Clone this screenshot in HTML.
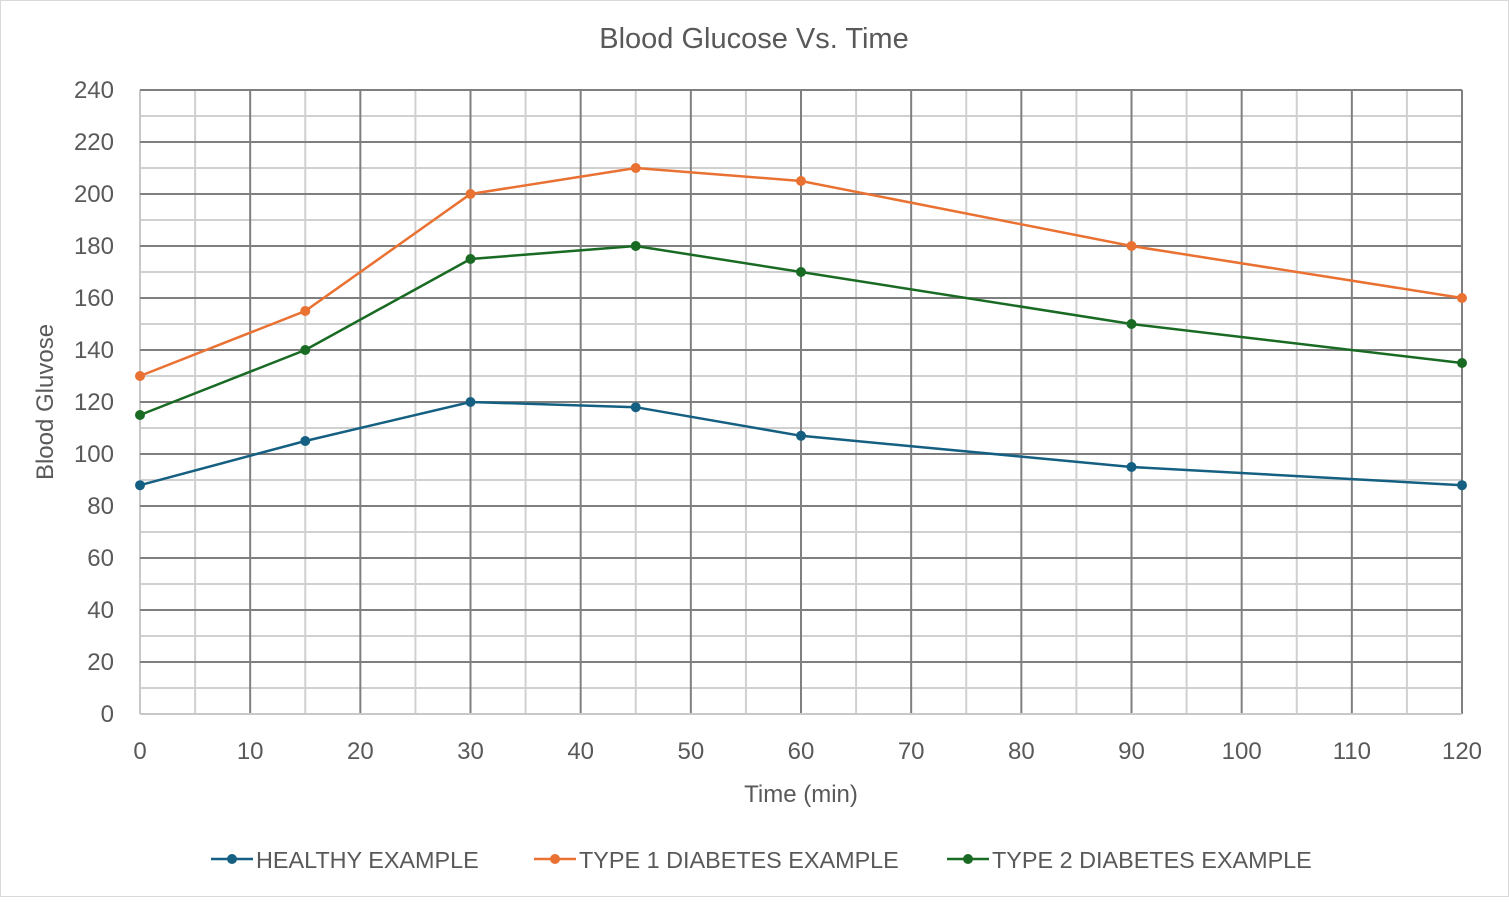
<!DOCTYPE html>
<html><head><meta charset="utf-8"><style>
body{margin:0;background:#fff;}
svg text{font-family:"Liberation Sans",sans-serif;fill:#595959;}
</style></head><body>
<svg id="chart" width="1509" height="897" xmlns="http://www.w3.org/2000/svg">
<rect x="0.5" y="0.5" width="1508" height="896" fill="#fff" stroke="#d9d9d9"/>
<text x="754" y="48" font-size="29" text-anchor="middle">Blood Glucose Vs. Time</text>
<g id="grid"></g>
<g id="series"></g>
<text x="801" y="802" font-size="24" text-anchor="middle">Time (min)</text>
<text transform="translate(53,402) rotate(-90)" font-size="24" text-anchor="middle">Blood Gluvose</text>
<g id="legend"></g>
</svg>
<script>
const times=[0,15,30,45,60,90,120];
const healthy=[88,105,120,118,107,95,88];
const type1=[130,155,200,210,205,180,160];
const type2=[115,140,175,180,170,150,135];
const seriesNames=["HEALTHY EXAMPLE","TYPE 1 DIABETES EXAMPLE","TYPE 2 DIABETES EXAMPLE"];
const xTicks=[0,10,20,30,40,50,60,70,80,90,100,110,120];
const yTicks=[0,20,40,60,80,100,120,140,160,180,200,220,240];
const colors=["#156082","#e97132","#196b24"];
const NS="http://www.w3.org/2000/svg";
const X0=140,X1=1462,Y0=714,Y1=90;
const xs=v=>X0+(v/120)*(X1-X0);
const ys=v=>Y0-(v/240)*(Y0-Y1);
function mk(t,a,p){const e=document.createElementNS(NS,t);for(const k in a)e.setAttribute(k,a[k]);p.appendChild(e);return e;}
const grid=document.getElementById('grid');
for(let v=5;v<=120;v+=10){const l=mk('line',{x1:xs(v),x2:xs(v),y1:Y1,y2:Y0,stroke:'#d0d0d0','stroke-width':2},grid);
}
for(let v=10;v<=240;v+=20){const l=mk('line',{x1:X0,x2:X1,y1:ys(v),y2:ys(v),stroke:'#d0d0d0','stroke-width':2},grid);
}
xTicks.forEach(v=>{const l=mk('line',{x1:xs(v),x2:xs(v),y1:Y1,y2:Y0,stroke:v===0?'#c8c8c8':'#7f7f7f','stroke-width':2},grid);

const t=mk('text',{x:xs(v),y:759,'font-size':24,'text-anchor':'middle'},grid);t.textContent=v;
});
yTicks.forEach(v=>{const l=mk('line',{x1:X0,x2:X1,y1:ys(v),y2:ys(v),stroke:v===0?'#c8c8c8':'#7f7f7f','stroke-width':2},grid);

const t=mk('text',{x:114,y:ys(v)+8,'font-size':24,'text-anchor':'end'},grid);t.textContent=v;
});
const sg=document.getElementById('series');
[healthy,type1,type2].forEach((d,i)=>{
const p=mk('polyline',{points:d.map((v,j)=>xs(times[j])+','+ys(v)).join(' '),fill:'none',stroke:colors[i],'stroke-width':2.5},sg);

d.forEach((v,j)=>{const c=mk('circle',{cx:xs(times[j]),cy:ys(v),r:5,fill:colors[i]},sg);
});});
const lg=document.getElementById('legend');
const lx=[211,534,947];
seriesNames.forEach((n,i)=>{const g=mk('g',{},lg);

mk('line',{x1:lx[i],x2:lx[i]+42,y1:859,y2:859,stroke:colors[i],'stroke-width':2.5},g);
mk('circle',{cx:lx[i]+21,cy:859,r:5,fill:colors[i]},g);
const t=mk('text',{x:lx[i]+45,y:868,'font-size':23.4},g);t.textContent=n;});
</script>
</body></html>
